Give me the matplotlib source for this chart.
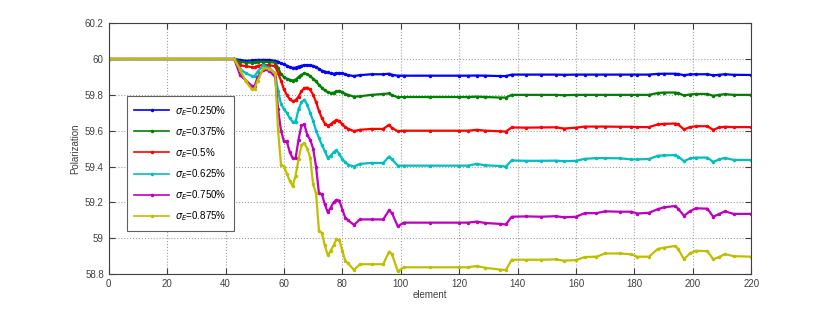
import numpy as np
import matplotlib
matplotlib.use('Agg')
import matplotlib.pyplot as plt

# element positions where the curves were read off
element = [0, 43, 45, 47, 49, 50, 51, 53, 55, 57, 58, 59, 60, 61, 62, 63, 64, 65, 66, 67,
           68, 69, 70, 71, 72, 73, 74, 75, 76, 77, 78, 79, 80, 81, 82, 84, 86, 90, 94, 96,
           97, 99, 101, 110, 120, 123, 126, 129, 134, 136, 138, 143, 148, 153, 156, 160, 163, 167, 170, 175,
           179, 181, 185, 188, 190, 194, 195, 197, 199, 201, 205, 207, 209, 211, 214, 220]

pol_0250 = [60, 60, 59.995, 59.99, 59.992, 59.993, 59.995, 59.995, 59.995, 59.99,
            59.985, 59.975, 59.97, 59.963, 59.955, 59.95, 59.952, 59.958, 59.962, 59.966,
            59.966, 59.964, 59.962, 59.955, 59.945, 59.935, 59.93, 59.925, 59.92, 59.918,
            59.92, 59.922, 59.92, 59.915, 59.91, 59.905, 59.91, 59.915, 59.915, 59.918,
            59.912, 59.907, 59.907, 59.907, 59.907, 59.907, 59.908, 59.907, 59.905, 59.905,
            59.913, 59.913, 59.913, 59.913, 59.912, 59.913, 59.913, 59.913, 59.913, 59.913,
            59.913, 59.913, 59.913, 59.917, 59.918, 59.918, 59.916, 59.91, 59.914, 59.915,
            59.915, 59.909, 59.912, 59.915, 59.912, 59.911]

pol_0375 = [60, 60, 59.985, 59.98, 59.98, 59.982, 59.985, 59.985, 59.983, 59.98,
            59.95, 59.915, 59.9, 59.89, 59.885, 59.88, 59.885, 59.9, 59.912, 59.92,
            59.915, 59.905, 59.89, 59.875, 59.855, 59.84, 59.825, 59.815, 59.81, 59.812,
            59.82, 59.822, 59.815, 59.805, 59.8, 59.79, 59.792, 59.8, 59.805, 59.808,
            59.798, 59.787, 59.788, 59.788, 59.788, 59.788, 59.79, 59.788, 59.785, 59.785,
            59.8, 59.8, 59.8, 59.8, 59.798, 59.8, 59.8, 59.8, 59.8, 59.8,
            59.8, 59.8, 59.8, 59.81, 59.813, 59.813, 59.81, 59.797, 59.802, 59.805,
            59.805, 59.795, 59.8, 59.804, 59.8, 59.8]

pol_0500 = [60, 60, 59.965, 59.96, 59.955, 59.955, 59.962, 59.968, 59.965, 59.96,
            59.92, 59.88, 59.83, 59.8, 59.775, 59.765, 59.77, 59.79, 59.82, 59.838,
            59.84, 59.83, 59.8, 59.76, 59.71, 59.67, 59.64, 59.628, 59.635, 59.65,
            59.658, 59.655, 59.635, 59.62, 59.61, 59.598, 59.605, 59.61, 59.61, 59.633,
            59.615, 59.597, 59.6, 59.6, 59.6, 59.6, 59.605, 59.6, 59.597, 59.595,
            59.618, 59.617, 59.618, 59.619, 59.612, 59.617, 59.623, 59.623, 59.623, 59.622,
            59.622, 59.62, 59.62, 59.635, 59.638, 59.64, 59.635, 59.607, 59.62, 59.625,
            59.625, 59.605, 59.618, 59.622, 59.62, 59.62]

pol_0625 = [60, 60, 59.945, 59.92, 59.905, 59.905, 59.93, 59.965, 59.95, 59.92,
            59.82, 59.75, 59.72, 59.7, 59.67, 59.65, 59.65, 59.72, 59.76, 59.773,
            59.745, 59.7, 59.655, 59.6, 59.56, 59.52, 59.485, 59.45, 59.46, 59.48,
            59.49, 59.47, 59.44, 59.425, 59.41, 59.4, 59.415, 59.42, 59.42, 59.456,
            59.44, 59.405, 59.405, 59.405, 59.405, 59.405, 59.415, 59.407, 59.403, 59.4,
            59.434, 59.432, 59.432, 59.433, 59.43, 59.432, 59.443, 59.447, 59.447, 59.446,
            59.44, 59.44, 59.442, 59.46, 59.462, 59.464, 59.456, 59.43, 59.445, 59.45,
            59.45, 59.426, 59.44, 59.448, 59.437, 59.437]

pol_0750 = [60, 60, 59.91, 59.88, 59.85, 59.85, 59.9, 59.94, 59.935, 59.9,
            59.72, 59.6, 59.54, 59.54, 59.48, 59.447, 59.447, 59.55, 59.63, 59.635,
            59.575, 59.55, 59.5, 59.4, 59.25, 59.245, 59.19, 59.145, 59.17, 59.2,
            59.214, 59.21, 59.16, 59.115, 59.1, 59.074, 59.105, 59.105, 59.105, 59.156,
            59.14, 59.066, 59.087, 59.087, 59.087, 59.087, 59.093, 59.085, 59.08, 59.077,
            59.12, 59.122, 59.12, 59.123, 59.117, 59.12, 59.14, 59.14, 59.15, 59.148,
            59.148, 59.138, 59.142, 59.162, 59.172, 59.18, 59.165, 59.125, 59.15, 59.167,
            59.165, 59.12, 59.135, 59.15, 59.136, 59.136]

pol_0875 = [60, 60, 59.94, 59.875, 59.83, 59.835, 59.88, 59.95, 59.945, 59.92,
            59.6, 59.41, 59.4, 59.36, 59.32, 59.29, 59.35, 59.44, 59.52, 59.53,
            59.5, 59.45, 59.3, 59.25, 59.04, 59.03, 58.96, 58.905, 58.93, 58.96,
            58.995, 58.99, 58.93, 58.875, 58.86, 58.823, 58.855, 58.855, 58.855, 58.925,
            58.91, 58.815, 58.838, 58.838, 58.838, 58.838, 58.845, 58.835, 58.825, 58.823,
            58.88, 58.88, 58.88, 58.882, 58.875, 58.878, 58.895, 58.897, 58.915, 58.915,
            58.91, 58.897, 58.897, 58.94, 58.947, 58.957, 58.94, 58.883, 58.915, 58.93,
            58.928, 58.883, 58.895, 58.912, 58.9, 58.897]

labels = [r'$\sigma_E$=0.250%', r'$\sigma_E$=0.375%', r'$\sigma_E$=0.5%',
          r'$\sigma_E$=0.625%', r'$\sigma_E$=0.750%', r'$\sigma_E$=0.875%']
colors = ['#0000ff', '#008000', '#ff0000', '#00bfbf', '#bf00bf', '#bfbf00']
series = [pol_0250, pol_0375, pol_0500, pol_0625, pol_0750, pol_0875]

plt.rcParams['font.family'] = ['Liberation Sans', 'DejaVu Sans']
plt.rcParams['mathtext.fontset'] = 'dejavusans'

fig = plt.figure(figsize=(8.3, 3.09), dpi=100)
ax = fig.add_axes([0.131, 0.113, 0.774, 0.812])

for vals, lab, col in zip(series, labels, colors):
    ax.plot(element, vals, color=col, lw=1.6, marker='.', markersize=3, label=lab)

ax.set_xlim(0, 220)
ax.set_ylim(58.8, 60.2)
ax.set_xticks(np.arange(0, 221, 20))
ax.set_yticks([58.8, 59, 59.2, 59.4, 59.6, 59.8, 60, 60.2])
ax.set_yticklabels(['58.8', '59', '59.2', '59.4', '59.6', '59.8', '60', '60.2'])
ax.grid(True, linestyle=':', color='#a0a0a0', lw=0.8)
ax.tick_params(direction='in', top=True, right=True, labelsize=7, colors='#404040', length=4)
for s in ax.spines.values():
    s.set_color('#404040')
    s.set_linewidth(0.8)

ax.set_xlabel('element', fontsize=7, color='#404040', labelpad=1)
ax.set_ylabel('Polarization', fontsize=7, color='#404040', labelpad=3)

leg = ax.legend(loc='upper left', bbox_to_anchor=(0.028, 0.71), fontsize=7,
                fancybox=False, framealpha=1, edgecolor='#606060', labelspacing=0.75,
                handlelength=3.6, borderpad=0.8, handletextpad=0.6, borderaxespad=0)
leg.get_frame().set_linewidth(0.8)
for h in leg.legend_handles:
    h.set_linewidth(1.2)

plt.savefig('out.png', dpi=100)
